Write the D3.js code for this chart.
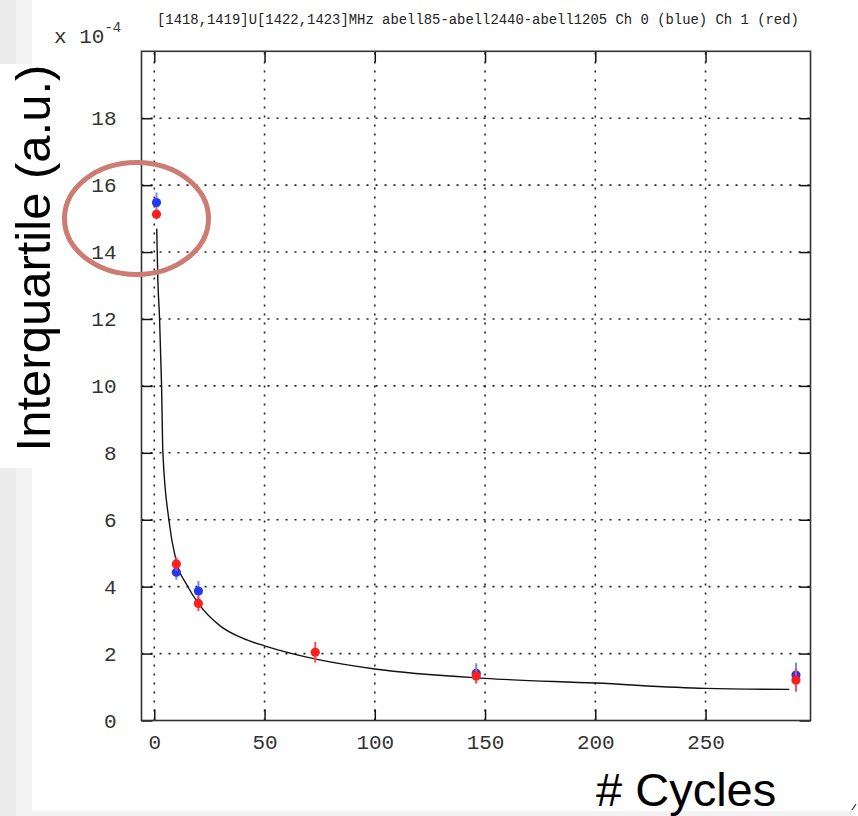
<!DOCTYPE html>
<html>
<head>
<meta charset="utf-8">
<script src="https://cdn.jsdelivr.net/npm/d3@7"></script>
<style>
  html, body { margin: 0; padding: 0; background: #fff; }
  svg { display: block; }
</style>
</head>
<body>
<svg id="chart" width="858" height="816"></svg>
<script>
// Interquartile range (units of 1e-4) versus number of cycles, two channels
const blueX   = [1, 10, 20, 146, 291];
const blueY   = [15.48, 4.43, 3.87, 1.41, 1.36];
const blueErr = [0.30, 0.22, 0.30, 0.30, 0.37];

const redX   = [1, 10, 20, 73, 146, 291];
const redY   = [15.13, 4.68, 3.50, 2.04, 1.33, 1.21];
const redErr = [0.15, 0.20, 0.23, 0.31, 0.22, 0.35];

// fitted curve, sampled along the cycle axis
const fitX = [1.1, 1.6, 2.4, 3.3, 3.9, 6.6, 10, 14.8, 20, 30, 40, 50, 75, 100, 150, 200, 250, 288];
const fitY = [14.7, 13.2, 12.0, 10.0, 8.0, 6.0, 4.75, 4.05, 3.5, 2.82, 2.46, 2.23, 1.81, 1.54, 1.26, 1.12, 0.96, 0.93];

const xTicks = [0, 50, 100, 150, 200, 250];
const yTicks = [0, 2, 4, 6, 8, 10, 12, 14, 16, 18];

const titleText = "[1418,1419]U[1422,1423]MHz abell85-abell2440-abell1205 Ch 0 (blue) Ch 1 (red)";
const yLabel = "Interquartile (a.u.)";
const xLabel = "# Cycles";

const svg = d3.select("#chart");

// light grey margins of the page
const bg = svg.append("g");
bg.append("rect").attr("x", 0).attr("y", 0).attr("width", 16).attr("height", 64).attr("fill", "#ececec");
bg.append("rect").attr("x", 16).attr("y", 0).attr("width", 16).attr("height", 64).attr("fill", "#f4f4f4");
bg.append("rect").attr("x", 0).attr("y", 468).attr("width", 16).attr("height", 348).attr("fill", "#ececec");
bg.append("rect").attr("x", 16).attr("y", 468).attr("width", 16).attr("height", 348).attr("fill", "#f4f4f4");
bg.append("rect").attr("x", 32).attr("y", 811).attr("width", 822).attr("height", 5).attr("fill", "#f3f3f3");

const L = 141.5, R = 810.5, T = 51.3, B = 720.5;
const x = d3.scaleLinear().domain([-5.8, 297.6]).range([L, R]);
const y = d3.scaleLinear().domain([0, 20]).range([B, T]);

const monoFont = "'Liberation Mono', 'Courier New', monospace";

// dotted grid
const grid = svg.append("g").attr("stroke", "#222").attr("stroke-width", 1.6)
  .attr("stroke-dasharray", "2,7");
grid.selectAll("line.v").data(xTicks).join("line")
  .attr("x1", d => x(d)).attr("x2", d => x(d)).attr("y1", B).attr("y2", T);
grid.selectAll("line.h").data(yTicks.filter(d => d > 0)).join("line")
  .attr("x1", L).attr("x2", R).attr("y1", d => y(d)).attr("y2", d => y(d));

// axes with inward ticks on all four sides
const tickLen = 11;
const axBottom = d3.axisBottom(x).tickValues(xTicks).tickSizeInner(-tickLen).tickSizeOuter(0).tickPadding(14);
const axLeft = d3.axisLeft(y).tickValues(yTicks).tickSizeInner(-tickLen).tickSizeOuter(0).tickPadding(25);
const axTop = d3.axisTop(x).tickValues(xTicks).tickSizeInner(-tickLen).tickSizeOuter(0).tickFormat("");
const axRight = d3.axisRight(y).tickValues(yTicks).tickSizeInner(-tickLen).tickSizeOuter(0).tickFormat("");

function styleAxis(g) {
  g.select(".domain").remove();
  g.selectAll(".tick line").attr("stroke", "#111").attr("stroke-width", 1.5);
  g.selectAll(".tick text").attr("font-family", monoFont).attr("font-size", 21).attr("fill", "#333");
}
svg.append("g").attr("transform", `translate(0,${B})`).call(axBottom).call(styleAxis)
  .selectAll(".tick text").attr("dy", "0.71em");
svg.append("g").attr("transform", `translate(${L},0)`).call(axLeft).call(styleAxis);
svg.append("g").attr("transform", `translate(0,${T})`).call(axTop).call(styleAxis);
svg.append("g").attr("transform", `translate(${R},0)`).call(axRight).call(styleAxis);

// frame
svg.append("rect").attr("x", L).attr("y", T).attr("width", R - L).attr("height", B - T)
  .attr("fill", "none").attr("stroke", "#333").attr("stroke-width", 1.6);

// fitted curve
const fitData = fitX.map((d, i) => [d, fitY[i]]);
svg.append("path").datum(fitData)
  .attr("fill", "none").attr("stroke", "#111").attr("stroke-width", 1.4)
  .attr("d", d3.line().x(d => x(d[0])).y(d => y(d[1])).curve(d3.curveMonotoneX));

// points with vertical error bars
function drawSeries(xs, ys, es, dot, bar) {
  const data = xs.map((d, i) => ({ x: d, y: ys[i], e: es[i] }));
  const g = svg.append("g");
  g.selectAll("line").data(data).join("line")
    .attr("x1", d => x(d.x)).attr("x2", d => x(d.x))
    .attr("y1", d => y(d.y - d.e)).attr("y2", d => y(d.y + d.e))
    .attr("stroke", bar).attr("stroke-width", 2);
  g.selectAll("circle").data(data).join("circle")
    .attr("cx", d => x(d.x)).attr("cy", d => y(d.y)).attr("r", 4.6)
    .attr("fill", dot);
}
drawSeries(blueX, blueY, blueErr, "#2438f0", "#6f86ff");
drawSeries(redX, redY, redErr, "#ff1e1e", "#ff4a4a");

// title and exponent
svg.append("text").attr("x", 157).attr("y", 24)
  .attr("font-family", monoFont).attr("font-size", 13.9).attr("fill", "#222")
  .text(titleText);
const expo = svg.append("text").attr("x", 54).attr("y", 43)
  .attr("font-family", monoFont).attr("font-size", 21).attr("fill", "#333");
expo.append("tspan").text("x 10");
expo.append("tspan").attr("font-size", 14).attr("dy", -11).text("-4");

// axis labels
svg.append("text")
  .attr("transform", "translate(50,258) rotate(-90)")
  .attr("text-anchor", "middle")
  .attr("font-family", "'Liberation Sans', Arial, sans-serif").attr("font-size", 49)
  .attr("fill", "#000").text(yLabel);
svg.append("text").attr("x", 596).attr("y", 806)
  .attr("font-family", "'Liberation Sans', Arial, sans-serif").attr("font-size", 47)
  .attr("fill", "#000").text(xLabel);

// highlight ring round the first measurements
svg.append("ellipse").attr("cx", 136.5).attr("cy", 218.5).attr("rx", 72).attr("ry", 56)
  .attr("fill", "none").attr("stroke", "#cc7c72").attr("stroke-width", 5);

svg.append("path").attr("d", "M852,810 L856,804").attr("stroke", "#333").attr("stroke-width", 1.2);
</script>
</body>
</html>
